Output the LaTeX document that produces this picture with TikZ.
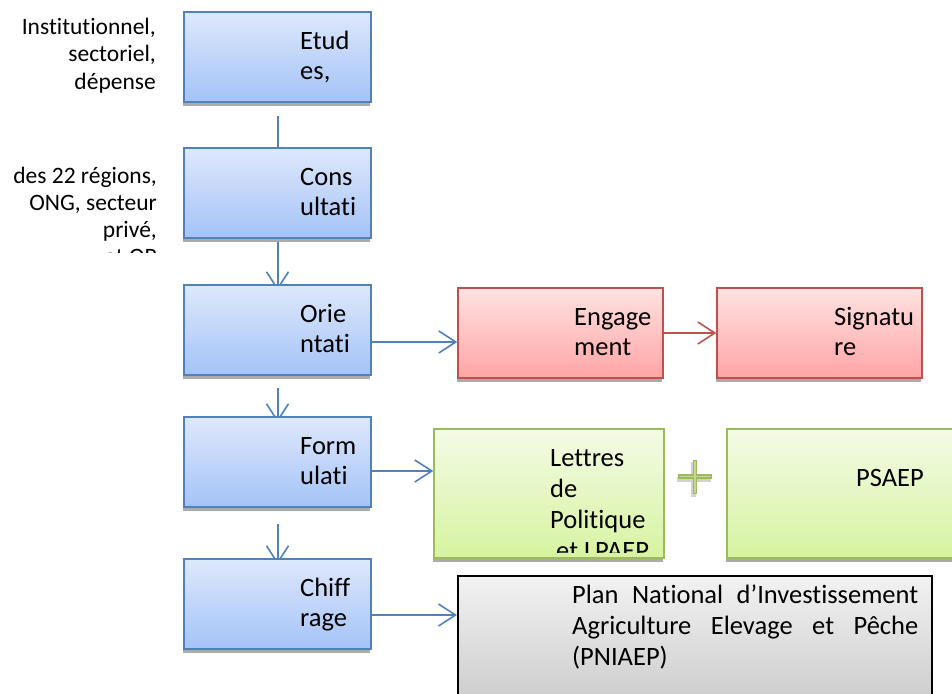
\documentclass[tikz,border=0pt]{standalone}
\usepackage{fontspec}
\setmainfont{Carlito}[Ligatures=NoCommon]
\usetikzlibrary{arrows.meta,shadows,calc}
\definecolor{bluedraw}{HTML}{4F81BD}
\definecolor{bluetop}{HTML}{DEE8FB}
\definecolor{bluebot}{HTML}{A4C3F7}
\definecolor{reddraw}{HTML}{C0504D}
\definecolor{redtop}{HTML}{FFE2E2}
\definecolor{redbot}{HTML}{FFA5A4}
\definecolor{greendraw}{HTML}{9BBB59}
\definecolor{greentop}{HTML}{F3FBE6}
\definecolor{greenbot}{HTML}{D7F3A0}
\definecolor{graytop}{HTML}{F2F2F2}
\definecolor{graybot}{HTML}{A8A8A8}
\definecolor{shadowgray}{HTML}{ABABAB}
\newcommand{\mybxfont}{\fontsize{26.5}{31}\selectfont}
\newcommand{\myleftfont}{\fontsize{23.5}{27}\selectfont}
\pgfdeclarelayer{bg}
\pgfsetlayers{bg,main}
\begin{document}
\begin{tikzpicture}[x=1pt,y=-1pt,
  boxbase/.style={rectangle, inner sep=0pt, line width=1.5pt},
  myshadow/.style={drop shadow={shadow xshift=-1.5pt,shadow yshift=-4pt,fill=shadowgray,opacity=1}},
  bluebox/.style={boxbase, myshadow, draw=bluedraw, top color=bluetop, bottom color=bluebot, minimum width=187pt, minimum height=90pt},
  redbox/.style={boxbase, myshadow, draw=reddraw, top color=redtop, bottom color=redbot, minimum width=205pt, minimum height=90pt},
  greenbox/.style={boxbase, myshadow, draw=greendraw, top color=greentop, bottom color=greenbot, minimum height=129pt},
  graybox/.style={boxbase, draw=black, line width=2pt, top color=graytop, bottom color=graybot, minimum width=474pt, minimum height=250pt},
  btxt/.style={font=\mybxfont, inner sep=0pt, anchor=base west},
  ltxt/.style={font=\myleftfont, inner sep=0pt, anchor=base east},
  arr/.style={draw=bluedraw, line width=1.6pt, -{Straight Barb[length=17pt,width=22pt,line width=1.6pt]}},
  rarr/.style={draw=reddraw, line width=1.6pt, -{Straight Barb[length=17pt,width=22pt,line width=1.6pt]}},
  vline/.style={draw=bluedraw, line width=2pt}
]
\useasboundingbox (0,0) rectangle (952,693);

% boxes
\node[bluebox] (b1) at (277.5,57) {};
\node[bluebox] (b2) at (277.5,193) {};
\node[bluebox] (b3) at (277.5,330) {};
\node[bluebox] (b4) at (277.5,462) {};
\node[bluebox] (b5) at (277.5,604) {};
\node[redbox] (e1) at (560.5,333) {};
\node[redbox] (s1) at (819.5,333) {};
\node[greenbox, minimum width=230pt] (l1) at (549,493.5) {};
\node[greenbox, minimum width=253pt] (p1) at (853.5,493.5) {};
\node[graybox] (g1) at (695,701) {};

% connectors (vertical ones behind boxes)
\coordinate (v1) at ([yshift=-13pt]b1.south);
\coordinate (v3) at ([yshift=-12pt]b3.south);
\coordinate (v4) at ([yshift=-16pt]b4.south);
\coordinate (a3) at ([yshift=-12pt]b3.east);
\coordinate (a4) at ([yshift=-9pt]b4.east);
\coordinate (a5) at ([yshift=-11pt]b5.east);
\begin{pgfonlayer}{bg}
\draw[vline] (v1) -- (b2.north);
\draw[arr, line width=2pt] (b2.south) -- ([yshift=-6pt]b3.north);
\draw[arr, line width=2pt] (v3) -- ([yshift=-6pt]b4.north);
\draw[arr, line width=2pt] (v4) -- ([yshift=-6pt]b5.north);
\end{pgfonlayer}
\draw[arr] (a3) -- (a3 -| e1.west);
\draw[rarr] (e1.east) -- (s1.west);
\draw[arr] (a4) -- (a4 -| l1.west);
\draw[arr] (a5) -- (a5 -| g1.west);

% plus sign
\draw[shadowgray!55, line width=5pt] (677,479.5) -- (711,479.5) (693.5,462) -- (693.5,497);
\draw[greendraw, line width=4.5pt] (678,476.5) -- (712,476.5) (695,459.5) -- (695,494);
\draw[greentop!45!greendraw, line width=1.5pt] (679.5,476.5) -- (710.5,476.5) (695,461) -- (695,492.5);

% blue box texts
\node[btxt] (t1a) at (300,49) {Etud};
\node[btxt] (t1b) at (300,79) {es,};
\node[btxt] (t2a) at (300,185) {Cons};
\node[btxt] (t2b) at (300,215) {ultati};
\node[btxt] (t3a) at (300,322) {Orie};
\node[btxt] (t3b) at (300,352) {ntati};
\node[btxt] (t4a) at (300,454) {Form};
\node[btxt] (t4b) at (300,484) {ulati};
\node[btxt] (t5a) at (300,596) {Chiff};
\node[btxt] (t5b) at (300,626) {rage};

% red box texts
\node[btxt] (te1) at (574,325) {Engage};
\node[btxt] (te2) at (574,355) {ment};
\node[btxt] (ts1) at (834,325) {Signatu};
\node[btxt] (ts2) at (834,355) {re};

% green box texts
\node[btxt] (tl1) at (550,466) {Lettres};
\node[btxt] (tl2) at (550,497) {de};
\node[btxt] (tl3) at (550,528) {Politique};
\begin{scope}
\clip (540,540) rectangle (660,552);
\node[btxt] (tl4) at (556,559) {et LPAEP};
\end{scope}
\node[btxt] (tp1) at (856,486) {PSAEP};

% gray box text
\node[btxt] (tg1) at (572,603) {\makebox[346pt][s]{Plan National d’Investissement}};
\node[btxt] (tg2) at (572,634) {\makebox[346pt][s]{Agriculture Elevage et Pêche}};
\node[btxt] (tg3) at (572,665) {(PNIAEP)};

% left texts
\node[ltxt] (la1) at (156,35) {Institutionnel,};
\node[ltxt] (la2) at (156,62) {sectoriel,};
\node[ltxt] (la3) at (156,89) {dépense};
\node[ltxt] (lb1) at (157,183) {des 22 régions,};
\node[ltxt] (lb2) at (157,210) {ONG, secteur};
\node[ltxt] (lb3) at (157,237) {privé,};
\begin{scope}
\clip (60,240) rectangle (170,252);
\node[ltxt] (lb4) at (157,264) {et OP};
\end{scope}
\end{tikzpicture}
\end{document}
